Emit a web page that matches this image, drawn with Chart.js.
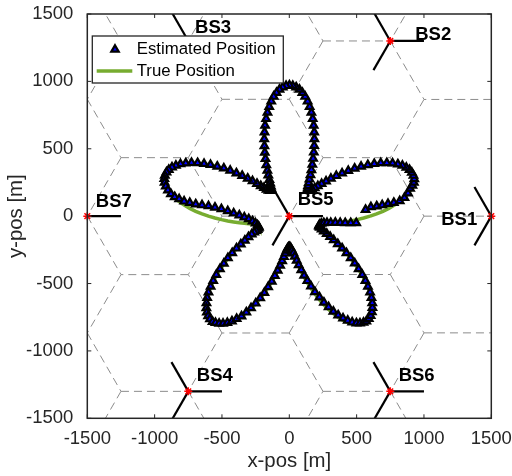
<!DOCTYPE html>
<html>
<head>
<meta charset="utf-8">
<title>Estimated vs true position</title>
<script src="https://cdn.jsdelivr.net/npm/chart.js@4.4.1/dist/chart.umd.min.js"></script>
<style>
  body { margin: 0; background: #fff; }
  #wrap { width: 512px; height: 476px; }
</style>
</head>
<body>
<div id="wrap"><canvas id="myChart" width="512" height="476"></canvas></div>
<script>
// ---- data ----
var xTicks = [-1500, -1000, -500, 0, 500, 1000, 1500];
var yTicks = [-1500, -1000, -500, 0, 500, 1000, 1500];

// base stations (m)
var bsNames = ['BS1', 'BS2', 'BS3', 'BS4', 'BS5', 'BS6', 'BS7'];
var bsX = [1500, 750, -750, -750, 0, 750, -1500];
var bsY = [0, 1300, 1300, -1300, 0, -1300, 0];
var sectorAz = [0, 120, 240];   // antenna directions (deg)
var cellRadius = 500;
var antennaLen = 250;

// true track (m)
var trueX = [
  600,648,695,739,781,818,851,879,900,916,
  925,927,923,911,894,870,841,807,768,725,
  680,632,584,534,485,438,392,349,308,272,
  239,211,187,168,153,142,135,132,132,135,
  140,146,154,161,169,175,181,184,185,184,
  180,173,163,150,135,117,96,74,50,25,
  0,-25,-50,-74,-96,-117,-135,-150,-163,-173,
  -180,-184,-185,-184,-181,-175,-169,-161,-154,-146,
  -140,-135,-132,-132,-135,-142,-153,-168,-187,-211,
  -239,-272,-308,-349,-392,-438,-485,-534,-584,-632,
  -680,-725,-768,-807,-841,-870,-894,-911,-923,-927,
  -925,-916,-900,-879,-851,-818,-781,-739,-695,-648,
  -600,-552,-504,-457,-413,-371,-334,-301,-273,-251,
  -234,-224,-219,-220,-226,-239,-255,-277,-302,-329,
  -359,-391,-423,-455,-485,-514,-541,-564,-583,-599,
  -609,-615,-616,-612,-603,-589,-570,-548,-521,-492,
  -460,-426,-391,-355,-319,-284,-249,-216,-185,-157,
  -130,-107,-86,-68,-53,-40,-29,-20,-13,-6,
  0,6,13,20,29,40,53,68,86,107,
  130,157,185,216,249,284,319,355,391,426,
  460,492,521,548,570,589,603,612,616,615,
  609,599,583,564,541,514,485,455,423,391,
  359,329,302,277,255,239,226,220,219,224,
  234,251,273,301,334,371,413,457,504,552,
  600
];
var trueY = [
  0,17,36,58,82,108,135,163,191,220,
  248,275,300,323,343,360,374,385,391,394,
  393,387,379,367,353,336,317,298,278,258,
  239,222,208,196,189,185,186,192,203,220,
  242,269,302,338,379,424,471,520,571,622,
  672,721,768,811,851,886,915,939,956,966,
  970,966,956,939,915,886,851,811,768,721,
  672,622,571,520,471,424,379,338,302,269,
  242,220,203,192,186,185,189,196,208,222,
  239,258,278,298,317,336,353,367,379,387,
  393,394,391,385,374,360,343,323,300,275,
  248,220,191,163,135,108,82,58,36,17,
  0,-14,-26,-36,-43,-49,-53,-56,-58,-60,
  -63,-66,-71,-78,-87,-99,-114,-132,-154,-179,
  -208,-240,-275,-312,-353,-395,-438,-482,-525,-568,
  -609,-648,-684,-716,-744,-767,-785,-797,-803,-803,
  -797,-785,-768,-745,-717,-685,-650,-611,-571,-529,
  -487,-446,-406,-368,-334,-304,-278,-257,-242,-233,
  -230,-233,-242,-257,-278,-304,-334,-368,-406,-446,
  -487,-529,-571,-611,-650,-685,-717,-745,-768,-785,
  -797,-803,-803,-797,-785,-767,-744,-716,-684,-648,
  -609,-568,-525,-482,-438,-395,-353,-312,-275,-240,
  -208,-179,-154,-132,-114,-99,-87,-78,-71,-66,
  -63,-60,-58,-56,-53,-49,-43,-36,-26,-14,
  0
];

// estimated track (m)
var estX = [
  606,649,690,733,776,820,855,882,897,914,
  925,928,922,910,893,869,840,806,767,724,
  679,631,583,533,485,438,392,349,309,273,
  240,212,189,170,156,146,140,137,137,139,
  144,150,157,164,171,177,182,185,186,185,
  181,174,164,151,136,118,97,75,51,26,
  1,-24,-49,-73,-95,-116,-134,-149,-162,-172,
  -180,-184,-186,-185,-182,-177,-171,-163,-156,-148,
  -142,-137,-134,-133,-136,-143,-154,-169,-188,-212,
  -240,-273,-309,-350,-393,-439,-486,-535,-585,-633,
  -681,-726,-769,-808,-842,-871,-895,-912,-924,-928,
  -926,-917,-901,-879,-851,-818,-781,-739,-695,-648,
  -600,-552,-504,-457,-413,-371,-334,-301,-273,-251,
  -236,-228,-226,-230,-236,-246,-260,-279,-303,-330,
  -360,-392,-424,-456,-486,-515,-542,-565,-584,-600,
  -610,-615,-616,-612,-603,-589,-570,-548,-521,-492,
  -460,-426,-391,-355,-319,-284,-249,-216,-185,-157,
  -130,-107,-86,-68,-53,-40,-29,-20,-13,-6,
  0,6,13,20,30,41,55,70,89,110,
  134,161,190,224,257,292,327,363,399,434,
  467,498,525,551,572,590,604,613,617,616,
  610,600,584,565,542,515,486,456,424,392,
  360,330,303,278,256,240,227,221,221,226,
  238,256,280,308,342,378,415,456,497,566
];
var estY = [
  68,74,82,92,100,112,137,170,205,228,
  250,276,301,324,344,361,375,386,392,395,
  394,388,380,368,354,337,318,299,279,259,
  240,223,209,198,191,188,190,196,207,224,
  246,273,306,342,383,427,474,522,573,623,
  673,722,769,812,852,887,916,940,957,967,
  971,967,957,940,916,887,852,812,769,722,
  673,623,572,521,472,425,380,339,303,270,
  244,222,205,194,189,188,191,198,210,224,
  241,260,280,300,319,338,355,369,381,389,
  395,396,393,387,376,362,345,325,302,277,
  250,222,193,165,143,127,110,99,89,82,
  75,65,53,38,21,6,-8,-21,-37,-53,
  -68,-76,-84,-92,-100,-108,-120,-134,-155,-180,
  -208,-239,-273,-310,-351,-392,-435,-479,-522,-565,
  -606,-645,-681,-713,-741,-764,-783,-791,-797,-797,
  -791,-779,-762,-742,-714,-682,-647,-608,-568,-526,
  -484,-443,-403,-366,-332,-302,-276,-255,-240,-231,
  -228,-231,-240,-254,-274,-299,-329,-363,-400,-440,
  -480,-521,-562,-601,-640,-675,-707,-735,-758,-775,
  -788,-794,-795,-790,-779,-761,-739,-711,-679,-644,
  -605,-565,-522,-479,-435,-392,-350,-310,-273,-238,
  -206,-177,-152,-130,-112,-97,-85,-76,-69,-62,
  -55,-50,-49,-49,-48,-49,-50,-50,-50,48
];

// ---- layout (not data) ----
var labelOffset = [[-372, -26], [185, 48], [50, 97], [63, 118], [62, 118], [62, 118], [63, 105]];
var FONT = "'Liberation Sans', Arial, Helvetica, sans-serif";
var INK = '#262626';

function toPts(xs, ys) {
  return xs.map(function (x, i) { return {x: x, y: ys[i]}; });
}
function rad(d) { return d * Math.PI / 180; }

var datasets = [];

datasets.push({
  label: 'Estimated Position',
  data: toPts(estX, estY),
  showLine: false,
  pointStyle: 'triangle',
  pointRadius: 4.3,
  pointBackgroundColor: '#0000ff',
  pointBorderColor: '#000000',
  pointBorderWidth: 2.2,
  order: 0,
  clip: false
});
datasets.push({
  label: 'True Position',
  data: toPts(trueX, trueY),
  showLine: true,
  borderColor: '#77ac30',
  borderWidth: 3.5,
  pointRadius: 0,
  order: 1,
  clip: 0
});
datasets.push({
  label: 'sites',
  data: toPts(bsX, bsY),
  showLine: false,
  pointStyle: 'star',
  pointRadius: 4,
  pointBorderColor: '#ff0000',
  pointBorderWidth: 1.5,
  order: 2,
  clip: false
});

// sector antennas
bsX.forEach(function (x, i) {
  sectorAz.forEach(function (az) {
    datasets.push({
      label: 'ant',
      data: [{x: x, y: bsY[i]}, {x: x + antennaLen * Math.cos(rad(az)), y: bsY[i] + antennaLen * Math.sin(rad(az))}],
      showLine: true, borderColor: '#000000', borderWidth: 2.2,
      pointRadius: 0, order: 3, clip: 0
    });
  });
});

// sector hexagons, each edge only once (keys on a 10 m raster)
function vkey(p) { return Math.round(p.x / 10) + ',' + Math.round(p.y / 10); }
var seen = {};
bsX.forEach(function (x, i) {
  sectorAz.forEach(function (az) {
    var cx = x + cellRadius * Math.cos(rad(az));
    var cy = bsY[i] + cellRadius * Math.sin(rad(az));
    for (var k = 0; k < 6; k++) {
      var a = {x: cx + cellRadius * Math.cos(rad(60 * k)), y: cy + cellRadius * Math.sin(rad(60 * k))};
      var b = {x: cx + cellRadius * Math.cos(rad(60 * k + 60)), y: cy + cellRadius * Math.sin(rad(60 * k + 60))};
      var ka = vkey(a), kb = vkey(b);
      var key = ka < kb ? ka + '|' + kb : kb + '|' + ka;
      if (seen[key]) continue;
      seen[key] = true;
      datasets.push({
        label: 'hex', data: [a, b], showLine: true,
        borderColor: '#8c8c8c', borderWidth: 1, borderDash: [8, 5],
        pointRadius: 0, order: 4, clip: 0
      });
    }
  });
});

// labels, frame, ticks, legend
var decor = {
  id: 'decor',
  afterDatasetsDraw: function (chart) {
    var c = chart.ctx, ca = chart.chartArea;
    var sx = chart.scales.x, sy = chart.scales.y;
    c.save();

    // BS labels
    c.font = 'bold 18.5px ' + FONT;
    c.fillStyle = '#000';
    c.textAlign = 'left';
    c.textBaseline = 'middle';
    bsNames.forEach(function (n, i) {
      c.fillText(n, sx.getPixelForValue(bsX[i] + labelOffset[i][0]), sy.getPixelForValue(bsY[i] + labelOffset[i][1]));
    });

    // axes box and inward ticks
    c.strokeStyle = INK;
    c.lineWidth = 1.5;
    c.strokeRect(ca.left, ca.top, ca.right - ca.left, ca.bottom - ca.top);
    c.lineWidth = 1;
    c.beginPath();
    xTicks.forEach(function (v) {
      var px = sx.getPixelForValue(v);
      c.moveTo(px, ca.bottom); c.lineTo(px, ca.bottom - 4);
      c.moveTo(px, ca.top); c.lineTo(px, ca.top + 4);
    });
    yTicks.forEach(function (v) {
      var py = sy.getPixelForValue(v);
      c.moveTo(ca.left, py); c.lineTo(ca.left + 4, py);
      c.moveTo(ca.right, py); c.lineTo(ca.right - 4, py);
    });
    c.stroke();

    // legend box
    var lx = ca.left + 5, ly = ca.top + 22, lw = 191, lh = 47;
    c.fillStyle = '#fff';
    c.fillRect(lx, ly, lw, lh);
    c.strokeStyle = INK;
    c.lineWidth = 1.3;
    c.strokeRect(lx, ly, lw, lh);

    var est = chart.data.datasets[0], tru = chart.data.datasets[1];
    // triangle
    var tx = lx + 22.7, ty = ly + 13.5, r = 4.3;
    c.beginPath();
    c.moveTo(tx, ty - r);
    c.lineTo(tx + 0.866 * r, ty + 0.5 * r);
    c.lineTo(tx - 0.866 * r, ty + 0.5 * r);
    c.closePath();
    c.fillStyle = est.pointBackgroundColor;
    c.fill();
    c.strokeStyle = est.pointBorderColor;
    c.lineWidth = est.pointBorderWidth;
    c.stroke();
    // line
    c.beginPath();
    c.moveTo(lx + 4.4, ly + 35); c.lineTo(lx + 40, ly + 35);
    c.strokeStyle = tru.borderColor;
    c.lineWidth = tru.borderWidth;
    c.stroke();

    c.font = '16.8px ' + FONT;
    c.fillStyle = '#000';
    c.textBaseline = 'middle';
    c.fillText(est.label, lx + 44.4, ly + 13.5);
    c.fillText(tru.label, lx + 44.4, ly + 35);
    c.restore();
  }
};

var ctx = document.getElementById('myChart').getContext('2d');
Chart.defaults.font.family = FONT;
Chart.defaults.color = INK;

function plain(v) { return String(v); }

var myChart = new Chart(ctx, {
  type: 'scatter',
  data: {datasets: datasets},
  options: {
    responsive: false,
    animation: false,
    events: [],
    layout: {padding: {top: 14, right: 20.7, bottom: 0, left: 0}},
    plugins: {legend: {display: false}, tooltip: {enabled: false}},
    scales: {
      x: {
        type: 'linear', min: -1500, max: 1500,
        afterBuildTicks: function (s) { s.ticks = xTicks.map(function (v) { return {value: v}; }); },
        afterFit: function (s) { s.height = 57.7; s.paddingLeft = 0; s.paddingRight = 0; },
        ticks: {font: {size: 18.5}, color: INK, padding: 2, maxRotation: 0, autoSkip: false, callback: plain},
        grid: {display: false},
        border: {display: false},
        title: {display: true, text: 'x-pos [m]', color: INK, font: {size: 20.4}, padding: {top: 0, bottom: 2}}
      },
      y: {
        type: 'linear', min: -1500, max: 1500,
        afterBuildTicks: function (s) { s.ticks = yTicks.map(function (v) { return {value: v}; }); },
        afterFit: function (s) { s.width = 87.3; s.paddingTop = 0; s.paddingBottom = 0; },
        ticks: {font: {size: 18.5}, color: INK, padding: 6, autoSkip: false, callback: plain},
        grid: {display: false},
        border: {display: false},
        title: {display: true, text: 'y-pos [m]', color: INK, font: {size: 20.4}, padding: {top: 4, bottom: 2}}
      }
    }
  },
  plugins: [decor]
});
</script>
</body>
</html>
